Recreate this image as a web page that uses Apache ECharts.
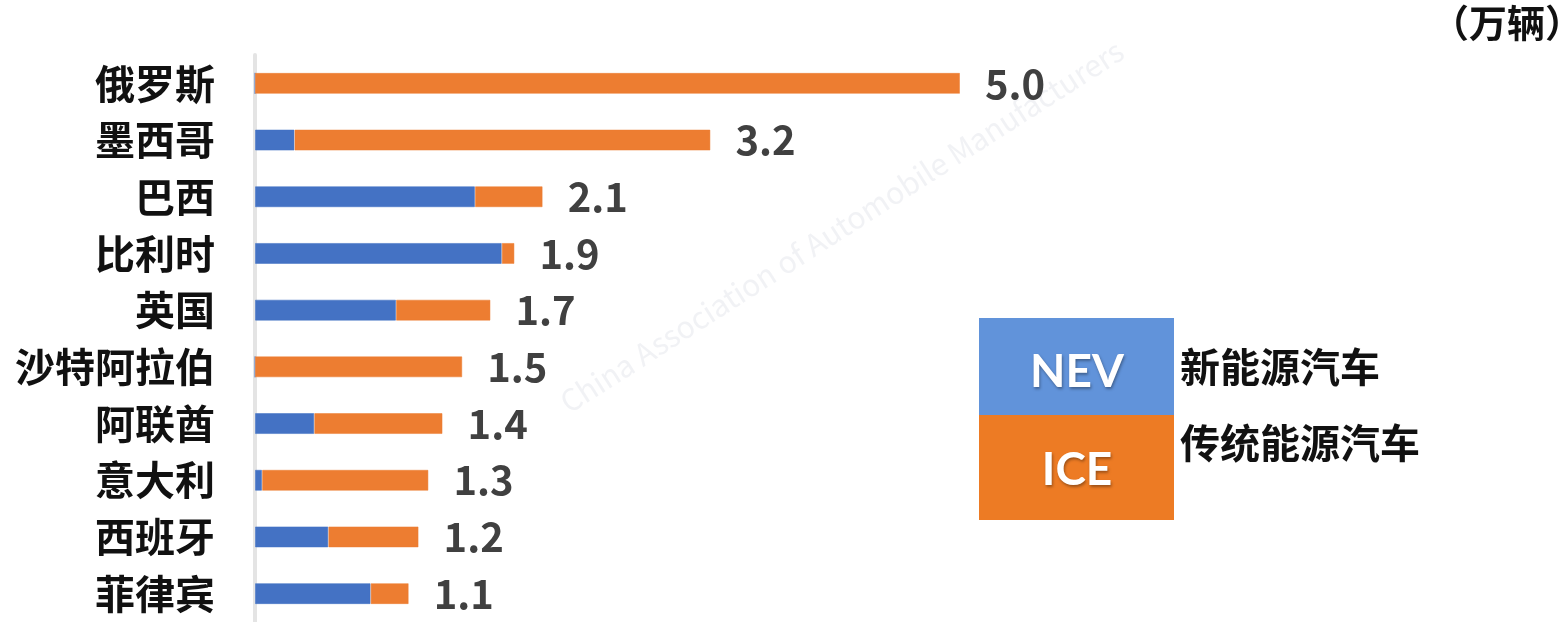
<!DOCTYPE html>
<html>
<head>
<meta charset="utf-8">
<script src="https://cdn.jsdelivr.net/npm/echarts@6/dist/echarts.min.js"></script>
<style>
html,body{margin:0;padding:0;background:#fff;}
#c{width:1562px;height:622px;}
</style>
</head>
<body>
<div id="c"></div>
<script>
// Data (万辆)
var categories = ['俄罗斯','墨西哥','巴西','比利时','英国','沙特阿拉伯','阿联酋','意大利','西班牙','菲律宾'];
var nevValues  = [0, 0.28, 1.56, 1.75, 1.00, 0, 0.42, 0.05, 0.52, 0.82];
var iceValues  = [5.00, 2.95, 0.48, 0.09, 0.67, 1.47, 0.91, 1.18, 0.64, 0.27];
var totalLabels = ['5.0','3.2','2.1','1.9','1.7','1.5','1.4','1.3','1.2','1.1'];

var CJK = '"Noto Sans CJK SC", "Noto Sans", sans-serif';
var chart = echarts.init(document.getElementById('c'), null, {renderer:'canvas'});
chart.setOption({
  backgroundColor: '#ffffff',
  animation: false,
  grid: {left: 255, top: 55, width: 1128, height: 568, containLabel: false},
  xAxis: {
    type: 'value', min: 0, max: 8, show: false
  },
  yAxis: {
    type: 'category', data: categories, inverse: true,
    axisLine: {show: true, lineStyle: {color: '#e4e4e4', width: 4}},
    axisTick: {show: false},
    axisLabel: {margin: 40, fontFamily: CJK, fontWeight: 'bold', fontSize: 40, color: '#111111'},
    splitLine: {show: false}
  },
  series: [
    {
      name: 'NEV', type: 'bar', stack: 'total', barWidth: 21,
      data: nevValues,
      itemStyle: {color: '#4472C4', borderColor: 'rgba(68,114,196,0.55)', borderWidth: 1}
    },
    {
      name: 'ICE', type: 'bar', stack: 'total', barWidth: 21,
      data: iceValues,
      itemStyle: {color: '#ED7D31', borderColor: 'rgba(237,125,49,0.5)', borderWidth: 1},
      label: {
        show: true, position: 'right', distance: 25,
        formatter: function (p) { return totalLabels[p.dataIndex]; },
        fontFamily: CJK, fontWeight: 'bold', fontSize: 40, color: '#404040'
      }
    }
  ],
  graphic: [
    {type: 'text', left: 555, top: 35, rotation: 0.57, z: -1, silent: true,
     style: {text: 'China Association of Automobile Manufacturers', fontSize: 30, fontFamily: CJK, fill: 'rgba(200,205,215,0.25)'}},
    {type: 'text', right: -21, top: 4,
     style: {text: '（万辆）', fontSize: 38, fontFamily: CJK, fontWeight: 'bold', fill: '#111111'}},
    {type: 'rect', left: 979, top: 318, shape: {width: 195, height: 97}, style: {fill: '#6193DA'}},
    {type: 'rect', left: 979, top: 415, shape: {width: 195, height: 105}, style: {fill: '#ED7B24'}},
    {type: 'text', x: 1077, y: 372,
     style: {text: 'NEV', fontSize: 46, fontFamily: 'Lato, "Open Sans", sans-serif', fontWeight: 'bold', fill: '#ffffff',
             align: 'center', verticalAlign: 'middle', textShadowColor: 'rgba(0,0,0,0.35)', textShadowBlur: 3, textShadowOffsetX: 1, textShadowOffsetY: 2}},
    {type: 'text', x: 1077, y: 470,
     style: {text: 'ICE', fontSize: 46, fontFamily: 'Lato, "Open Sans", sans-serif', fontWeight: 'bold', fill: '#ffffff',
             align: 'center', verticalAlign: 'middle', textShadowColor: 'rgba(0,0,0,0.35)', textShadowBlur: 3, textShadowOffsetX: 1, textShadowOffsetY: 2}},
    {type: 'text', x: 1180, y: 367,
     style: {text: '新能源汽车', fontSize: 40, fontFamily: CJK, fontWeight: 'bold', fill: '#111111', align: 'left', verticalAlign: 'middle'}},
    {type: 'text', x: 1180, y: 443,
     style: {text: '传统能源汽车', fontSize: 40, fontFamily: CJK, fontWeight: 'bold', fill: '#111111', align: 'left', verticalAlign: 'middle'}}
  ]
});
</script>
</body>
</html>
